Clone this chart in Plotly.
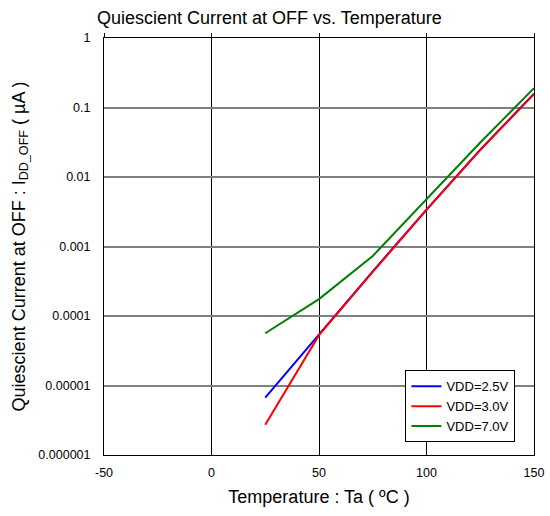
import plotly.graph_objects as go

temps = [25, 50, 75, 100, 125, 150]
vdd_25 = [6.7e-6, 5.4e-5, 4.4e-4, 3.4e-3, 0.0248, 0.158]
vdd_30 = [2.73e-6, 5.3e-5, 4.3e-4, 3.37e-3, 0.0244, 0.156]
vdd_70 = [5.65e-5, 1.75e-4, 7.3e-4, 4.8e-3, 0.0313, 0.19]

x_ticks = [-50, 0, 50, 100, 150]
x_tick_labels = ["-50", "0", "50", "100", "150"]
y_ticks = [1e-6, 1e-5, 1e-4, 1e-3, 1e-2, 1e-1, 1]
y_tick_labels = ["0.000001", "0.00001", "0.0001", "0.001", "0.01", "0.1", "1"]

FONT = "Liberation Sans, Arial, sans-serif"

fig = go.Figure()
fig.add_trace(go.Scatter(x=temps, y=vdd_25, mode="lines", name="VDD=2.5V",
                         line=dict(color="#0000ff", width=2)))
fig.add_trace(go.Scatter(x=temps, y=vdd_30, mode="lines", name="VDD=3.0V",
                         line=dict(color="#ff0000", width=2)))
fig.add_trace(go.Scatter(x=temps, y=vdd_70, mode="lines", name="VDD=7.0V",
                         line=dict(color="#008000", width=2)))
# invisible trace to anchor the top tick axis
fig.add_trace(go.Scatter(x=[x_ticks[0], x_ticks[-1]], y=[1e-6, 1e-6], xaxis="x2",
                         mode="lines", line=dict(width=0), showlegend=False,
                         hoverinfo="skip"))

fig.update_layout(
    width=550, height=516,
    margin=dict(l=104, r=16, t=38, b=61, autoexpand=False),
    paper_bgcolor="white", plot_bgcolor="white",
    font=dict(family=FONT, size=12, color="black"),
    title=dict(text="Quiescient Current at OFF vs. Temperature",
               x=97/550, xanchor="left", y=1-18/516, yanchor="middle",
               font=dict(size=18, family=FONT, color="black")),
    xaxis=dict(range=[-50, 150], tickvals=x_ticks, ticktext=x_tick_labels, ticks="",
               showline=True, linecolor="black", linewidth=1, mirror=True,
               showgrid=True, gridcolor="black", gridwidth=1,
               zeroline=False, automargin=False, ticklabelstandoff=6,
               title=dict(text="Temperature : Ta ( ºC )", font=dict(size=18), standoff=11),
               tickfont=dict(size=12.5)),
    xaxis2=dict(range=[-50, 150], tickvals=x_ticks, overlaying="x", side="top",
                ticks="outside", ticklen=4, tickcolor="black", showticklabels=False,
                showgrid=False, showline=False, zeroline=False, automargin=False),
    yaxis=dict(type="log", range=[-6, 0], tickvals=y_ticks, ticktext=y_tick_labels,
               ticks="", showline=True, linecolor="black", linewidth=1, mirror=True,
               showgrid=True, gridcolor="#808080", gridwidth=1.5,
               zeroline=False, automargin=False, ticklabelstandoff=10,
               title=dict(text="Quiescient Current at OFF : I<sub>DD_OFF</sub> ( µA )",
                          font=dict(size=18), standoff=8),
               tickfont=dict(size=12.5)),
    legend=dict(x=0.701, y=0.203, xanchor="left", yanchor="top",
                bgcolor="white", bordercolor="black", borderwidth=1,
                font=dict(size=13), tracegroupgap=0),
    showlegend=True,
)

fig.write_html("out.html", config={"displayModeBar": False},
               post_script="document.body.style.margin='0';document.body.style.overflow='hidden';")
